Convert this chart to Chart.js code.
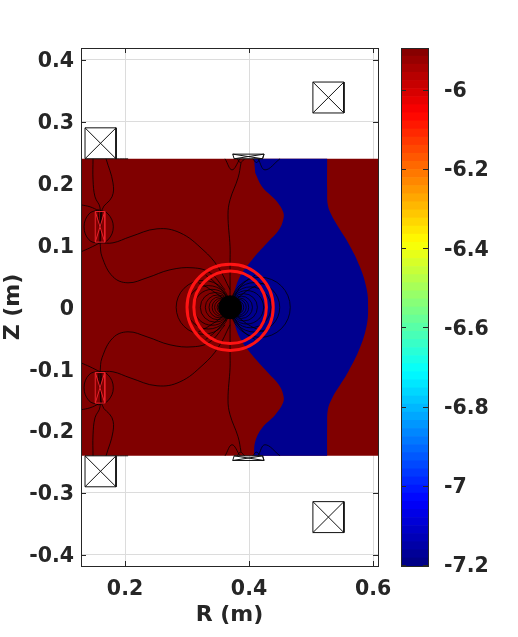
<!DOCTYPE html>
<html lang="en">
<head>
  <meta charset="UTF-8">
  <title>Flux map</title>
  <script src="https://cdn.jsdelivr.net/npm/chart.js"></script>
  <style>
    body { margin: 0; background: #fff; }
    canvas { position: absolute; top: 0; }
  </style>
</head>
<body>
  <canvas id="fluxChart" width="518" height="637" style="left:0"></canvas>
  <canvas id="barChart" width="140" height="637" style="left:378px"></canvas>

  <script>
    const xTicks = [0.2, 0.4, 0.6];
    const yTicks = [-0.4, -0.3, -0.2, -0.1, 0, 0.1, 0.2, 0.3, 0.4];
    const barTicks = [-7.2, -7, -6.8, -6.6, -6.4, -6.2, -6];
    const barRange = [-7.2025, -5.894];

    const plasmaBox = [[0.129, 0.24], [0.608, 0.24], [0.608, -0.24], [0.129, -0.24]];
    // corners are listed twice so the curve keeps them sharp
    const blueRegion = [
      [0.408, 0.24], [0.408, 0.24], [0.526, 0.24], [0.526, 0.24], [0.526, 0.19], [0.5272, 0.165], [0.533, 0.149], [0.542, 0.133],
      [0.56, 0.104], [0.579, 0.065], [0.59, 0.028], [0.592, 0],
      [0.59, -0.028], [0.579, -0.065], [0.56, -0.104], [0.542, -0.133], [0.533, -0.149], [0.5272, -0.165], [0.526, -0.19],
      [0.526, -0.24], [0.526, -0.24], [0.408, -0.24], [0.408, -0.24], [0.41, -0.217], [0.421, -0.195], [0.442, -0.174],
      [0.455, -0.154], [0.455, -0.141], [0.448, -0.125], [0.429, -0.104], [0.405, -0.077], [0.385, -0.049],
      [0.374, -0.017], [0.369, 0], [0.374, 0.017], [0.385, 0.049], [0.405, 0.077], [0.429, 0.104], [0.448, 0.125],
      [0.455, 0.141], [0.455, 0.154], [0.442, 0.174], [0.421, 0.195], [0.41, 0.217]
    ];

    // contour lines, upper half
    const legA = [[0.1484, 0.24], [0.1484, 0.206], [0.1516, 0.1785], [0.1597, 0.1607], [0.1597, 0.1042]];
    const legB = [[0.1694, 0.24], [0.1806, 0.201], [0.179, 0.1785], [0.1629, 0.1575], [0.1597, 0.1042]];
    const wingUp = [[0.129, 0.1656], [0.1435, 0.1624], [0.158, 0.156]];
    const wingLow = [[0.129, 0.0897], [0.1435, 0.0961], [0.1597, 0.1042]];
    const coilLoop = [[0.1573, 0.1575], [0.1726, 0.151], [0.1811, 0.13], [0.1726, 0.109], [0.1573, 0.1042],
      [0.1419, 0.109], [0.1339, 0.13], [0.1419, 0.151], [0.1573, 0.1575]];
    const coilWedge = [[0.1565, 0.155], [0.1597, 0.125], [0.1628, 0.155]];
    const lobeOuter = [[0.1597, 0.1042], [0.1806, 0.1042], [0.2081, 0.1139], [0.2516, 0.1268], [0.2887, 0.1204],
      [0.3258, 0.0929], [0.35, 0.0654], [0.3694, 0.0283]];
    const lobeInner = [[0.1597, 0.1042], [0.1629, 0.0816], [0.1806, 0.0493], [0.2048, 0.0396], [0.2355, 0.0477],
      [0.2726, 0.0606], [0.3097, 0.0638], [0.3371, 0.0557], [0.3613, 0.0283]];
    const spine = [[0.3871, 0.2334], [0.3823, 0.2092], [0.3694, 0.1737], [0.3661, 0.1494], [0.3694, 0.0977],
      [0.3694, 0.0735], [0.3694, 0.0121]];
    const arcLeft = [[0.3613, 0.24], [0.3726, 0.2221], [0.3855, 0.24]];
    const arcRight = [[0.4145, 0.24], [0.4258, 0.2221], [0.45, 0.24]];
    const dotLeft = [[0.381, 0.24], [0.386, 0.234], [0.393, 0.24]];
    const dotRight = [[0.406, 0.24], [0.412, 0.234], [0.418, 0.24]];
    const shelf = [[0.1855, 0.24], [0.205, 0.24]];
    const fanLeft = [[0.3695, 0], [0.362, 0.02], [0.345, 0.04], [0.33, 0.052]];
    const fanLeft2 = [[0.3695, 0], [0.358, 0.014], [0.336, 0.03], [0.318, 0.04]];
    const fanRight = [[0.3695, 0], [0.378, 0.02], [0.392, 0.04], [0.41, 0.052]];
    const fanRight2 = [[0.3695, 0], [0.381, 0.014], [0.402, 0.03], [0.425, 0.04]];
    // same lines, lower half
    const legAlow = [[0.1484, -0.24], [0.1484, -0.206], [0.1516, -0.1785], [0.1597, -0.1607], [0.1597, -0.1042]];
    const legBlow = [[0.1694, -0.24], [0.1806, -0.201], [0.179, -0.1785], [0.1629, -0.1575], [0.1597, -0.1042]];
    const wingUpLow = [[0.129, -0.1656], [0.1435, -0.1624], [0.158, -0.156]];
    const wingLowLow = [[0.129, -0.0897], [0.1435, -0.0961], [0.1597, -0.1042]];
    const coilLoopLow = [[0.1573, -0.1575], [0.1726, -0.151], [0.1811, -0.13], [0.1726, -0.109], [0.1573, -0.1042],
      [0.1419, -0.109], [0.1339, -0.13], [0.1419, -0.151], [0.1573, -0.1575]];
    const coilWedgeLow = [[0.1565, -0.105], [0.1597, -0.135], [0.1628, -0.105]];
    const lobeOuterLow = [[0.1597, -0.1042], [0.1806, -0.1042], [0.2081, -0.1139], [0.2516, -0.1268], [0.2887, -0.1204],
      [0.3258, -0.0929], [0.35, -0.0654], [0.3694, -0.0283]];
    const lobeInnerLow = [[0.1597, -0.1042], [0.1629, -0.0816], [0.1806, -0.0493], [0.2048, -0.0396], [0.2355, -0.0477],
      [0.2726, -0.0606], [0.3097, -0.0638], [0.3371, -0.0557], [0.3613, -0.0283]];
    const spineLow = [[0.3871, -0.2334], [0.3823, -0.2092], [0.3694, -0.1737], [0.3661, -0.1494], [0.3694, -0.0977],
      [0.3694, -0.0735], [0.3694, -0.0121]];
    const arcLeftLow = [[0.3613, -0.24], [0.3726, -0.2221], [0.3855, -0.24]];
    const arcRightLow = [[0.4145, -0.24], [0.4258, -0.2221], [0.45, -0.24]];
    const dotLeftLow = [[0.381, -0.24], [0.386, -0.234], [0.393, -0.24]];
    const dotRightLow = [[0.406, -0.24], [0.412, -0.234], [0.418, -0.24]];
    const shelfLow = [[0.1855, -0.24], [0.205, -0.24]];
    const fanLeftLow = [[0.3695, 0], [0.362, -0.02], [0.345, -0.04], [0.33, -0.052]];
    const fanLeft2Low = [[0.3695, 0], [0.358, -0.014], [0.336, -0.03], [0.318, -0.04]];
    const fanRightLow = [[0.3695, 0], [0.378, -0.02], [0.392, -0.04], [0.41, -0.052]];
    const fanRight2Low = [[0.3695, 0], [0.381, -0.014], [0.402, -0.03], [0.425, -0.04]];

    const contours = [legA, legB, wingUp, wingLow, coilLoop, coilWedge, lobeOuter, lobeInner, spine, arcLeft, arcRight,
      dotLeft, dotRight, shelf, fanLeft, fanLeft2, fanRight, fanRight2,
      legAlow, legBlow, wingUpLow, wingLowLow, coilLoopLow, coilWedgeLow, lobeOuterLow, lobeInnerLow, spineLow, arcLeftLow, arcRightLow,
      dotLeftLow, dotRightLow, shelfLow, fanLeftLow, fanLeft2Low, fanRightLow, fanRight2Low];

    // dipole loops round the centre: how far each reaches along R
    const centreR = 0.3695;
    const loopsLeft = [0.087, 0.07, 0.058, 0.048, 0.04, 0.034, 0.029, 0.025, 0.021];
    const loopsRight = [0.097, 0.08, 0.066, 0.054, 0.044, 0.036, 0.03, 0.026, 0.022];
    const coreRadius = [0.0185];
    const ringRadius = [0.0695, 0.0585];

    // coils, each a box with its two diagonals
    const coilTL = [[0.1355, 0.29], [0.1855, 0.29], [0.1855, 0.24], [0.1355, 0.24], [0.1355, 0.29], [0.1855, 0.24], [0.1855, 0.29], [0.1355, 0.24]];
    const coilBL = [[0.1355, -0.24], [0.1855, -0.24], [0.1855, -0.29], [0.1355, -0.29], [0.1355, -0.24], [0.1855, -0.29], [0.1855, -0.24], [0.1355, -0.29]];
    const coilTR = [[0.503, 0.364], [0.553, 0.364], [0.553, 0.314], [0.503, 0.314], [0.503, 0.364], [0.553, 0.314], [0.553, 0.364], [0.503, 0.314]];
    const coilBR = [[0.503, -0.314], [0.553, -0.314], [0.553, -0.364], [0.503, -0.364], [0.503, -0.314], [0.553, -0.364], [0.553, -0.314], [0.503, -0.364]];
    const coilTM = [[0.3737, 0.2475], [0.4242, 0.2475], [0.4218, 0.24], [0.376, 0.24], [0.3737, 0.2475], [0.4218, 0.24], [0.4242, 0.2475], [0.376, 0.24]];
    const coilBM = [[0.376, -0.24], [0.4218, -0.24], [0.4242, -0.2475], [0.3737, -0.2475], [0.376, -0.24], [0.4242, -0.2475], [0.4218, -0.24], [0.3737, -0.2475]];
    const coilRedUp = [[0.152, 0.1548], [0.1673, 0.1548], [0.1673, 0.1053], [0.152, 0.1053], [0.152, 0.1548], [0.1673, 0.1053], [0.1673, 0.1548], [0.152, 0.1053]];
    const coilRedLow = [[0.152, -0.1053], [0.1673, -0.1053], [0.1673, -0.1548], [0.152, -0.1548], [0.152, -0.1053], [0.1673, -0.1548], [0.1673, -0.1053], [0.152, -0.1548]];

    const INK = '#262626';
    const FONT = { family: 'DejaVu Sans', weight: 'bold', size: 20.5 };
    const TITLE_FONT = { family: 'DejaVu Sans', weight: 'bold', size: 22 };

    const toPts = pts => pts.map(([x, y]) => ({ x, y }));
    const line = (pts, color, width, tension) => ({
      data: toPts(pts), showLine: true, borderColor: color, borderWidth: width,
      pointRadius: 0, tension: tension, fill: false
    });
    const area = (pts, color, tension) => ({
      data: toPts(pts), showLine: true, borderColor: color, borderWidth: 0,
      pointRadius: 0, tension: tension, fill: 'shape', backgroundColor: color
    });
    // marker whose radius follows the R scale, so it stays in data units
    const circle = (R, reach, color, width, fillColor) => ({
      data: [{ x: R, y: 0 }], showLine: false,
      pointRadius: ctx => Math.abs(ctx.chart.scales.x.getPixelForValue(R + reach) - ctx.chart.scales.x.getPixelForValue(R)),
      pointBackgroundColor: fillColor || 'rgba(0,0,0,0)', pointBorderColor: color, pointBorderWidth: width
    });

    // first in this list is painted last
    const datasets = [
      circle(centreR, ringRadius[0], '#ff1414', 3),
      circle(centreR, ringRadius[1], '#ff1414', 3),
      ...[coilTL, coilBL, coilTR, coilBR, coilTM, coilBM].map(c => line(c, '#111', 1, 0)),
      ...[coilRedUp, coilRedLow].map(c => line(c, '#e8202a', 1, 0)),
      circle(centreR, coreRadius[0], '#000', 1, '#000'),
      ...loopsLeft.map(r => circle(centreR - r / 2, r / 2, 'rgba(0,0,0,0.75)', 1)),
      ...loopsRight.map(r => circle(centreR + r / 2, r / 2, 'rgba(0,0,0,0.75)', 1)),
      ...contours.map(c => line(c, 'rgba(0,0,0,0.78)', 1, 0.4)),
      area(blueRegion, '#00008f', 0.4),
      area(plasmaBox, '#800000', 0)
    ];

    const insideTicks = {
      id: 'insideTicks',
      beforeDatasetsDraw(chart) {
        const { ctx, chartArea: a, scales } = chart;
        ctx.save();
        ctx.strokeStyle = INK;
        ctx.lineWidth = 1;
        ctx.beginPath();
        xTicks.forEach(v => {
          const px = Math.round(scales.x.getPixelForValue(v)) + 0.5;
          ctx.moveTo(px, a.top); ctx.lineTo(px, a.top + 5);
          ctx.moveTo(px, a.bottom); ctx.lineTo(px, a.bottom - 5);
        });
        yTicks.forEach(v => {
          const py = Math.round(scales.y.getPixelForValue(v)) + 0.5;
          ctx.moveTo(a.left, py); ctx.lineTo(a.left + 5, py);
          ctx.moveTo(a.right, py); ctx.lineTo(a.right - 5, py);
        });
        ctx.stroke();
        ctx.restore();
      },
      afterDatasetsDraw(chart) {
        const { ctx, chartArea: a } = chart;
        ctx.save();
        ctx.strokeStyle = INK;
        ctx.lineWidth = 1;
        ctx.strokeRect(a.left + 0.5, a.top + 0.5, a.right - a.left, a.bottom - a.top);
        ctx.restore();
      }
    };

    new Chart(document.getElementById('fluxChart'), {
      type: 'scatter',
      data: { datasets },
      plugins: [insideTicks],
      options: {
        responsive: false,
        animation: false,
        layout: { autoPadding: false, padding: { top: 48, right: 140, left: 0, bottom: 0 } },
        plugins: { legend: { display: false }, tooltip: { enabled: false } },
        scales: {
          x: {
            min: 0.129, max: 0.608,
            afterBuildTicks: s => { s.ticks = xTicks.map(value => ({ value })); },
            afterFit: s => { s.height = 71; },
            grid: { color: '#dcdcdc', drawTicks: false },
            border: { display: false },
            ticks: { color: INK, font: FONT, padding: 11, maxRotation: 0, autoSkip: false, callback: v => String(v) },
            title: { display: true, text: 'R (m)', color: INK, font: TITLE_FONT, padding: { top: 0, bottom: 9 } }
          },
          y: {
            min: -0.418, max: 0.419,
            afterBuildTicks: s => { s.ticks = yTicks.map(value => ({ value })); },
            afterFit: s => { s.width = 81; },
            grid: { color: '#dcdcdc', drawTicks: false },
            border: { display: false },
            ticks: { color: INK, font: FONT, padding: 7, labelOffset: 2, autoSkip: false, callback: v => String(v) },
            title: { display: true, text: 'Z (m)', color: INK, font: TITLE_FONT, padding: { top: 0, bottom: 0 } }
          }
        }
      }
    });

    // colour scale: MATLAB jet, 64 steps, bottom to top
    const STEPS = 64;
    const jetPart = t => Math.round(255 * Math.max(0, Math.min(1, 1.5 - Math.abs(4 * t - 2))));
    const jet = t => `rgb(${jetPart(t - 0.25)},${jetPart(t)},${jetPart(t + 0.25)})`;
    const bandSize = (barRange[1] - barRange[0]) / STEPS;
    const bands = [];
    for (let i = 0; i < STEPS; i++) {
      bands.push({
        data: [[barRange[0] + i * bandSize, barRange[0] + (i + 1) * bandSize]],
        backgroundColor: jet((i + 0.5) / STEPS),
        grouped: false, barPercentage: 1, categoryPercentage: 1
      });
    }

    const barFrame = {
      id: 'barFrame',
      afterDatasetsDraw(chart) {
        const { ctx, chartArea: a, scales } = chart;
        ctx.save();
        ctx.strokeStyle = INK;
        ctx.lineWidth = 1;
        ctx.strokeRect(a.left + 0.5, a.top + 0.5, a.right - a.left, a.bottom - a.top);
        ctx.beginPath();
        barTicks.forEach(v => {
          const py = Math.round(scales.y.getPixelForValue(v)) + 0.5;
          ctx.moveTo(a.right, py); ctx.lineTo(a.right - 5, py);
          ctx.moveTo(a.left, py); ctx.lineTo(a.left + 5, py);
        });
        ctx.stroke();
        ctx.restore();
      }
    };

    new Chart(document.getElementById('barChart'), {
      type: 'bar',
      data: { labels: [''], datasets: bands },
      plugins: [barFrame],
      options: {
        responsive: false,
        animation: false,
        layout: { autoPadding: false, padding: { top: 48, left: 23, right: 0, bottom: 71 } },
        plugins: { legend: { display: false }, tooltip: { enabled: false } },
        scales: {
          x: { display: false },
          y: {
            position: 'right',
            min: barRange[0], max: barRange[1],
            afterBuildTicks: s => { s.ticks = barTicks.map(value => ({ value })); },
            afterFit: s => { s.width = 90; },
            grid: { display: false },
            border: { display: false },
            ticks: { color: INK, font: FONT, padding: 8, labelOffset: 2, autoSkip: false, callback: v => String(v) }
          }
        }
      }
    });
  </script>
</body>
</html>
